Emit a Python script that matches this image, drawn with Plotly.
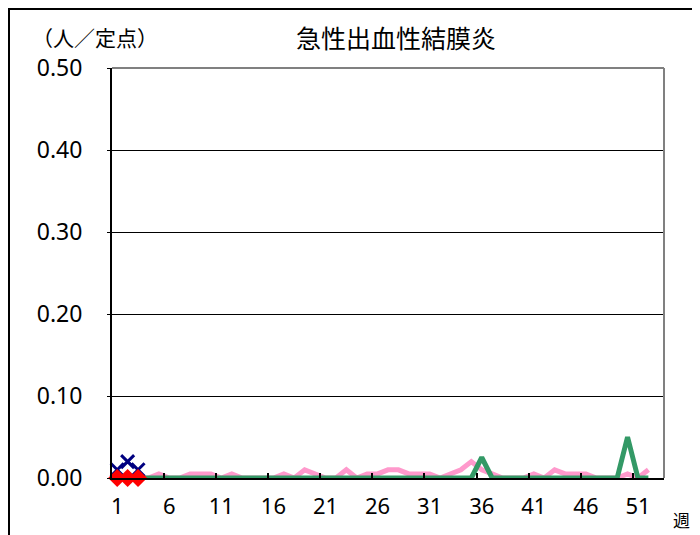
import plotly.graph_objects as go

weeks = list(range(1, 53))
pink_vals = [0, 0, 0, 0, 0.005, 0, 0, 0.005, 0.005, 0.005,
             0, 0.005, 0, 0, 0, 0, 0.005, 0, 0.01, 0.005,
             0, 0, 0.01, 0, 0.005, 0.005, 0.01, 0.01, 0.005, 0.005,
             0.005, 0, 0.005, 0.01, 0.02, 0.01, 0.005, 0, 0, 0,
             0.005, 0, 0.01, 0.005, 0.005, 0.005, 0, 0, 0, 0.005,
             0, 0.01]
green_vals = [0] * 35 + [0.025] + [0] * 13 + [0.05] + [0, 0]
cur_weeks = [1, 2, 3]
blue_vals = [0.01, 0.02, 0.01]
red_vals = [0, 0, 0]

xtick_vals = [1, 6, 11, 16, 21, 26, 31, 36, 41, 46, 51]
xtick_text = [str(v) for v in xtick_vals]
xminor_vals = [5.5, 10.5, 15.5, 20.5, 25.5, 30.5, 35.5, 40.5, 45.5, 50.5]
ytick_vals = [0, 0.1, 0.2, 0.3, 0.4, 0.5]

title_text = "急性出血性結膜炎"
yunit_text = "（人／定点）"
xunit_text = "週"

num_font = "Noto Sans"
jp_font = "Noto Sans CJK JP"

fig = go.Figure()
fig.add_trace(go.Scatter(x=weeks, y=pink_vals, mode="lines",
                         line=dict(color="#FF99CC", width=5), hoverinfo="skip"))
fig.add_trace(go.Scatter(x=weeks, y=green_vals, mode="lines",
                         line=dict(color="#339966", width=5), hoverinfo="skip"))
fig.add_trace(go.Scatter(x=cur_weeks, y=blue_vals, mode="lines+markers",
                         line=dict(color="#000080", width=2),
                         marker=dict(symbol="x-thin", size=13,
                                     line=dict(color="#000080", width=3)),
                         cliponaxis=False, hoverinfo="skip"))
fig.add_trace(go.Scatter(x=cur_weeks, y=red_vals, mode="markers",
                         marker=dict(symbol="diamond", size=14, color="#FF0000",
                                     line=dict(width=0)),
                         cliponaxis=False, hoverinfo="skip"))

fig.update_layout(
    width=700, height=535,
    margin=dict(l=104, r=44, t=60, b=65),
    paper_bgcolor="white", plot_bgcolor="white",
    showlegend=False,
    xaxis=dict(range=[0.5, 53.5], tickvals=xtick_vals, ticktext=xtick_text,
               ticks="", showgrid=False, zeroline=False,
               showline=True, linecolor="black", linewidth=2,
               tickfont=dict(family=num_font, size=22, color="black"),
               ticklabelstandoff=8,
               minor=dict(tickvals=xminor_vals, ticks="inside", ticklen=5,
                          tickcolor="black", tickwidth=2, showgrid=False)),
    yaxis=dict(range=[0, 0.5], tickvals=ytick_vals, tickformat=".2f",
               ticks="outside", ticklen=3, tickcolor="black", tickwidth=1,
               showgrid=True, gridcolor="black", gridwidth=1, zeroline=False,
               showline=True, linecolor="black", linewidth=2,
               tickfont=dict(family=num_font, size=23, color="black"),
               ticklabelstandoff=20),
    shapes=[
        dict(type="line", xref="paper", yref="paper", x0=0, x1=1, y0=1, y1=1,
             line=dict(color="#808080", width=2)),
        dict(type="line", xref="paper", yref="paper", x0=1, x1=1, y0=0, y1=1,
             line=dict(color="#808080", width=2)),
        dict(type="rect", xref="paper", yref="paper", x0=-0.1866, x1=1.2,
             y0=-0.3, y1=1.1439, line=dict(color="black", width=2)),
    ],
    annotations=[
        dict(text=title_text, xref="paper", yref="paper", x=0.514, y=1.0756,
             xanchor="center", yanchor="middle", showarrow=False,
             font=dict(family=jp_font, size=25, color="black")),
        dict(text=yunit_text, xref="paper", yref="paper", x=-0.1486, y=1.0756,
             xanchor="left", yanchor="middle", showarrow=False,
             font=dict(family=jp_font, size=21, color="black")),
        dict(text=xunit_text, xref="paper", yref="paper", x=1.0326, y=-0.1024,
             xanchor="center", yanchor="middle", showarrow=False,
             font=dict(family=jp_font, size=17, color="black")),
    ],
)

fig.write_html("out.html")
